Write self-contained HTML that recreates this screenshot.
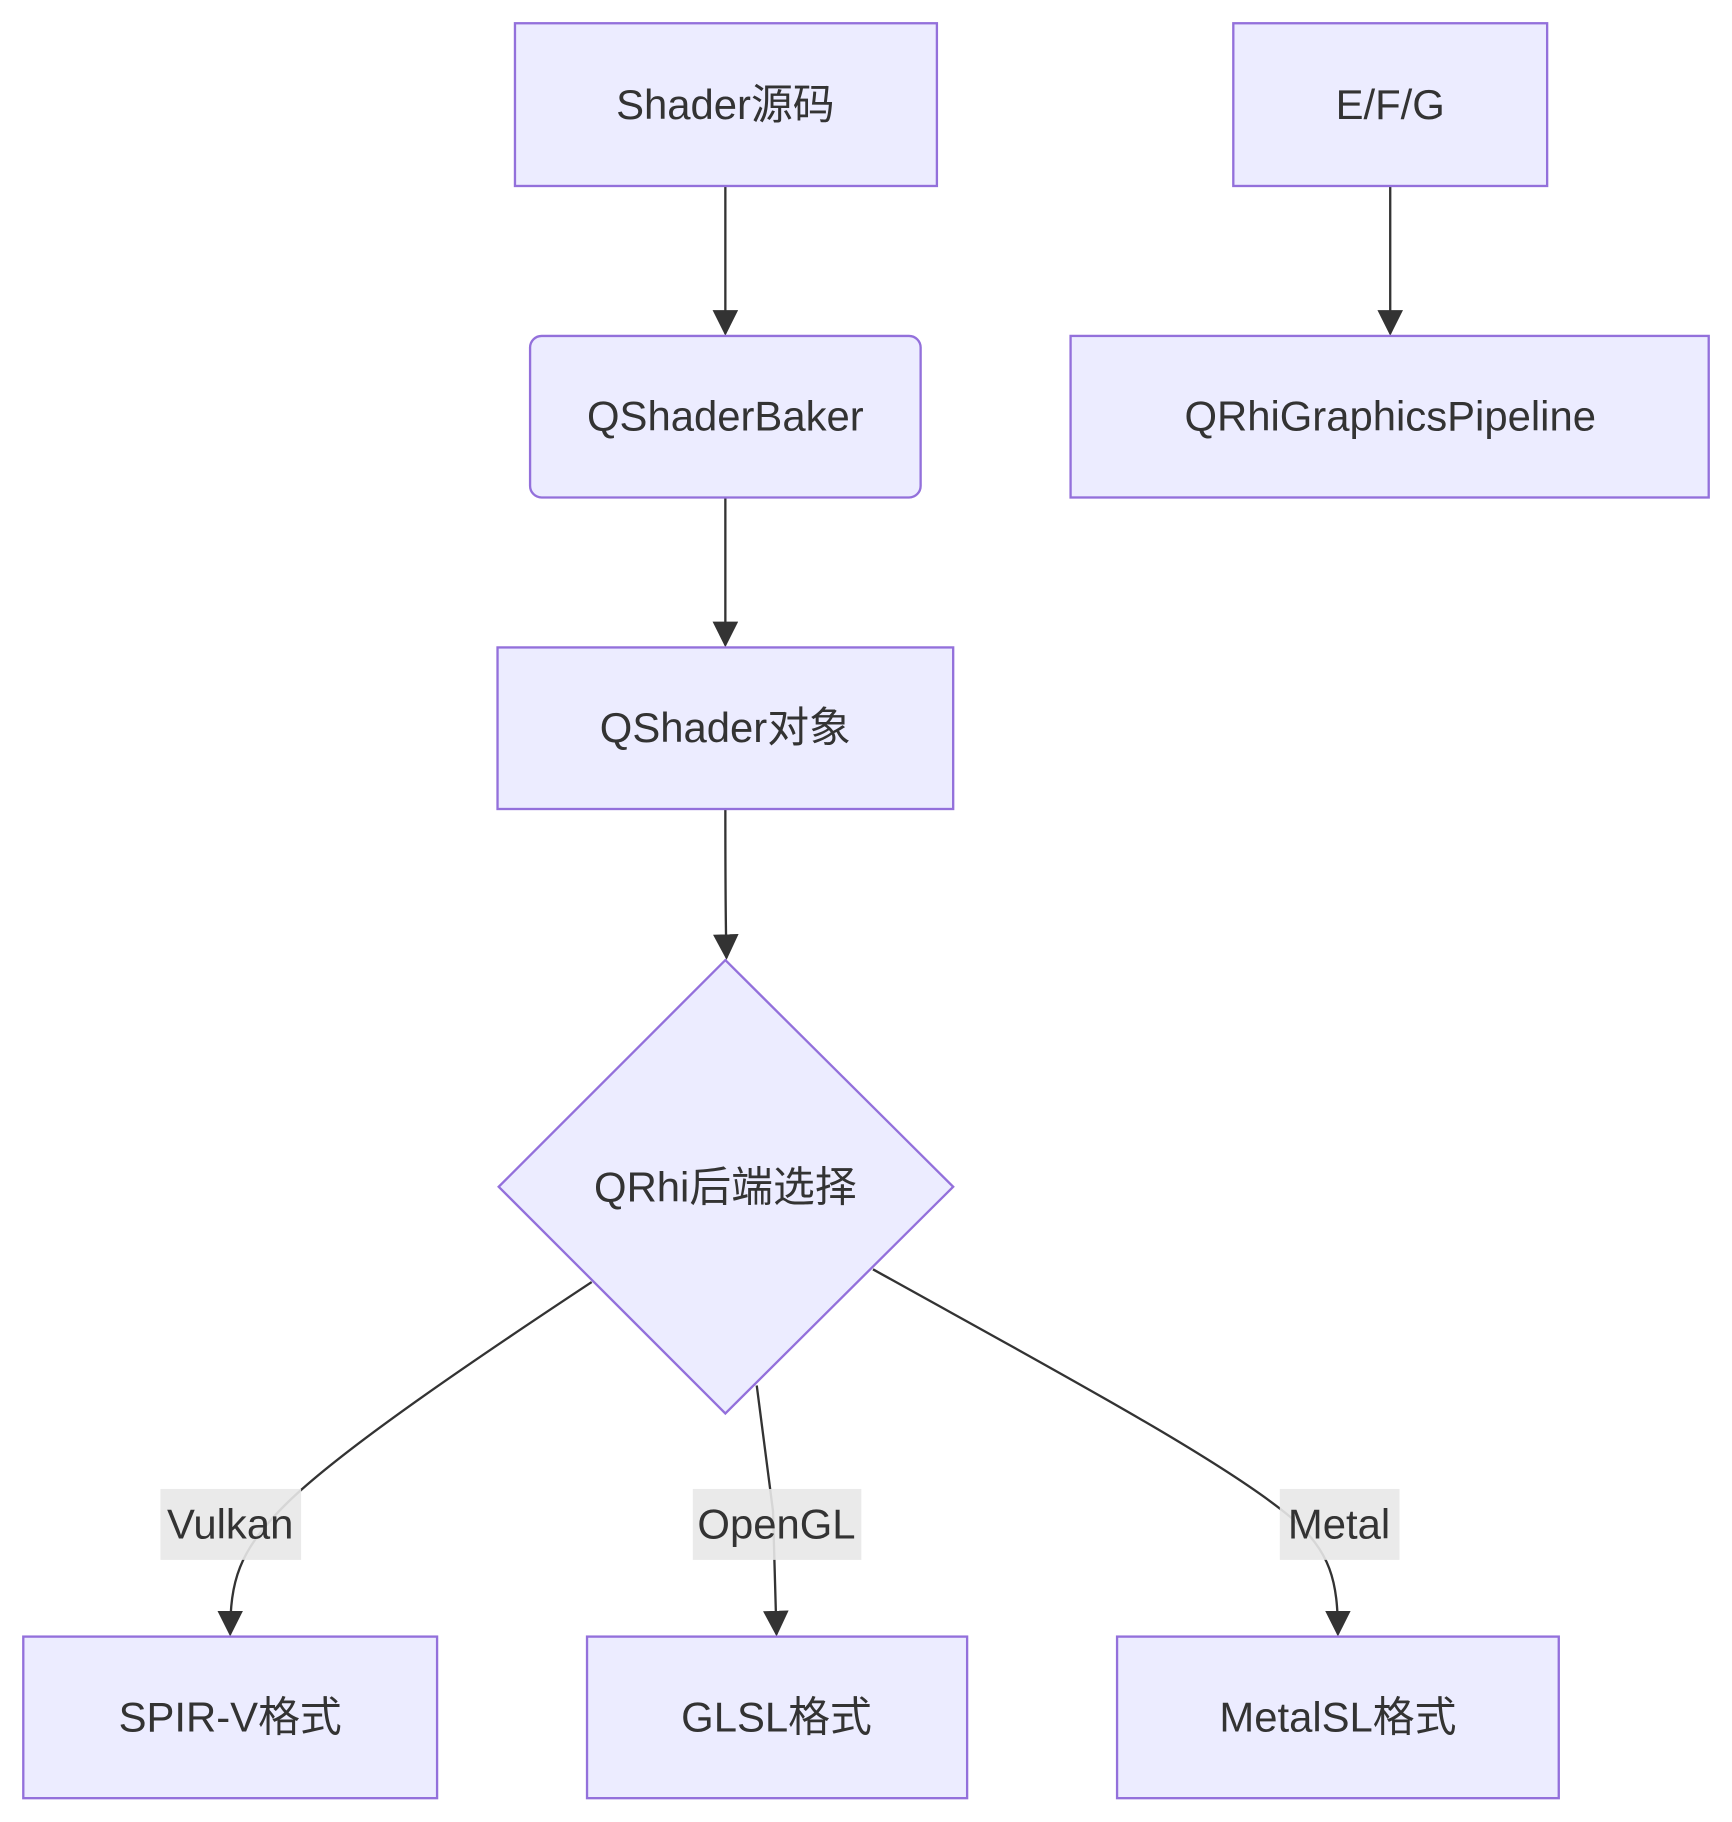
<!DOCTYPE html>
<html><head><meta charset="utf-8"><style>
html,body{margin:0;padding:0;background:#fff;}
svg{display:block;}
text{font-family:"Liberation Sans","Noto Sans CJK SC",sans-serif;font-size:36px;fill:#333;text-anchor:middle;dominant-baseline:central;}
.n{fill:#ECECFF;stroke:#9370DB;stroke-width:2;}
.e{fill:none;stroke:#333;stroke-width:2;}
.lb{fill:#e8e8e8;}
</style></head><body>
<svg width="1732" height="1822" viewBox="0 0 1490 1567.5" xmlns="http://www.w3.org/2000/svg">
<defs><marker id="a" viewBox="0 0 10 10" refX="9" refY="5" markerWidth="10" markerHeight="10" markerUnits="userSpaceOnUse" orient="auto"><path d="M0,0L10,5L0,10z" fill="#333"/></marker>
<marker id="b" viewBox="0 0 12 12" refX="11" refY="6" markerWidth="22" markerHeight="22" orient="auto" markerUnits="userSpaceOnUse"><path d="M0,0L12,6L0,12z" fill="#333"/></marker></defs>
<rect width="1490" height="1567.5" fill="#fff"/>
<!-- edges -->
<path class="e" d="M624,160L624,287" marker-end="url(#b)"/>
<path class="e" d="M624,428L624,555" marker-end="url(#b)"/>
<path class="e" d="M624,696C624,760 624,790 625,824" marker-end="url(#b)"/>
<path class="e" d="M1196,160L1196,287" marker-end="url(#b)"/>
<path class="e" d="M509,1103C400,1175 290,1250 245,1295C205,1335 198,1360 198,1406" marker-end="url(#b)"/>
<path class="e" d="M651,1192L665,1300L668,1406" marker-end="url(#b)"/>
<path class="e" d="M751,1092C900,1175 1050,1255 1110,1305C1145,1335 1151,1360 1151,1406" marker-end="url(#b)"/>
<!-- nodes -->
<rect class="n" x="443" y="20" width="363" height="140"/><text x="624" y="90">Shader源码</text>
<rect class="n" x="456" y="289" width="336" height="139" rx="10"/><text x="624" y="358">QShaderBaker</text>
<rect class="n" x="428" y="557" width="392" height="139"/><text x="624" y="626">QShader对象</text>
<polygon class="n" points="624,826 820,1021 624,1216 429,1021"/><text x="624" y="1021">QRhi后端选择</text>
<rect class="n" x="1061" y="20" width="270" height="140"/><text x="1196" y="90">E/F/G</text>
<rect class="n" x="921" y="289" width="549" height="139"/><text x="1196" y="358">QRhiGraphicsPipeline</text>
<rect class="n" x="20" y="1408" width="356" height="139"/><text x="198" y="1477">SPIR-V格式</text>
<rect class="n" x="505" y="1408" width="327" height="139"/><text x="668" y="1477">GLSL格式</text>
<rect class="n" x="961" y="1408" width="380" height="139"/><text x="1151" y="1477">MetalSL格式</text>
<!-- labels -->
<rect class="lb" x="138" y="1281" width="121" height="61" opacity="0.9"/><text x="198" y="1311">Vulkan</text>
<rect class="lb" x="596" y="1281" width="145" height="61" opacity="0.9"/><text x="668" y="1311">OpenGL</text>
<rect class="lb" x="1101" y="1281" width="103" height="61" opacity="0.9"/><text x="1152" y="1311">Metal</text>
</svg>
</body></html>
